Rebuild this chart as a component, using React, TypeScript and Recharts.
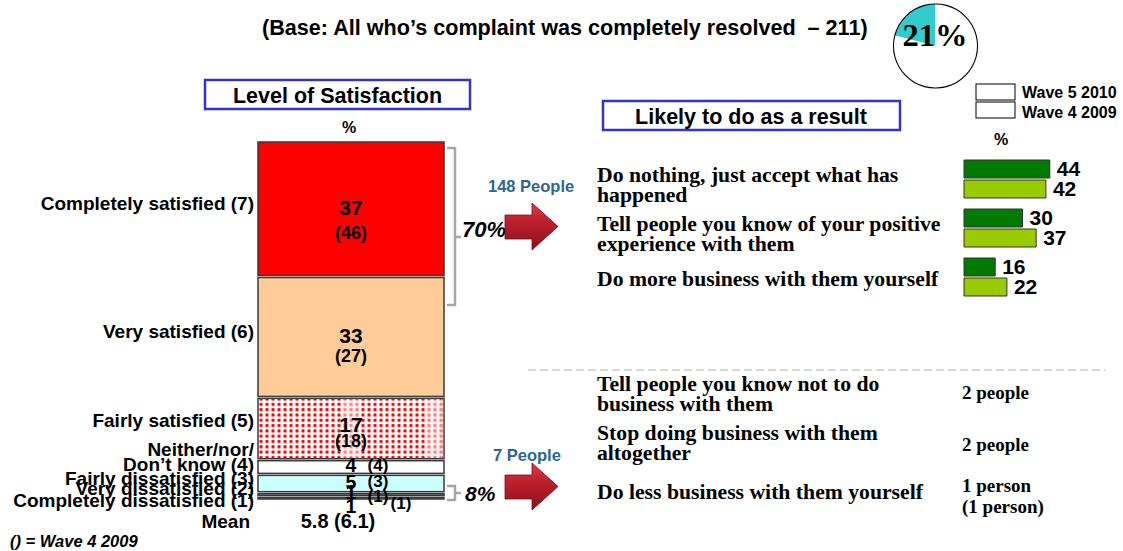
import React from 'react';
import { BarChart, Bar, XAxis, YAxis, LabelList, PieChart, Pie, Cell } from 'recharts';

// ---------- DATA ----------
// stacked bar, bottom to top
const satisfactionLevels = [
  'Completely dissatisfied (1)',
  'Very dissatisfied (2)',
  'Fairly dissatisfied (3)',
  'Neither/nor/\nDon’t know (4)',
  'Fairly satisfied (5)',
  'Very satisfied (6)',
  'Completely satisfied (7)',
];
const wave5Satisfaction = [1, 1, 5, 4, 17, 33, 37];
const wave4Satisfaction = [1, 1, 3, 4, 18, 27, 46];
const satisfactionFills = ['#5a84b0', '#ffffff', '#ccffff', '#ffffff', 'url(#redDots)', '#ffcc99', '#ff0000'];
const meanLabel = '5.8 (6.1)';

const actionCategories = [
  'Do nothing, just accept what has happened',
  'Tell people you know of your positive experience with them',
  'Do more business with them yourself',
];
const actionWave5 = [44, 30, 16];
const actionWave4 = [42, 37, 22];
const waveNames = ['Wave 5 2010', 'Wave 4 2009'];

const negativeActions = [
  'Tell people you know not to do business with them',
  'Stop doing business with them altogether',
  'Do less business with them yourself',
];
const negativeCounts = [['2 people'], ['2 people'], ['1 person', '(1 person)']];

const resolvedShare = [21, 79];
const positivePeople = '148 People';
const negativePeople = '7 People';
const positiveShare = '70%';
const negativeShare = '8%';

// ---------- BUILT TABLES ----------
const stackRow: Record<string, any> = { name: 'Level of Satisfaction' };
wave5Satisfaction.forEach((v, i) => { stackRow['s' + i] = v; });
const stackData = [stackRow];
const actionData = actionCategories.map((name, i) => ({ name, w5: actionWave5[i], w4: actionWave4[i] }));
const pieData = resolvedShare.map((value, i) => ({ name: i === 0 ? 'yes' : 'no', value }));

const SANS = '"Liberation Sans", Arial, sans-serif';
const SERIF = '"Liberation Serif", "Times New Roman", serif';

function wrap(text: string, max: number): string[] {
  const words = text.split(' ');
  const lines: string[] = [];
  let cur = '';
  words.forEach((w) => {
    const t = cur ? cur + ' ' + w : w;
    if (t.length > max && cur) { lines.push(cur); cur = w; } else cur = t;
  });
  if (cur) lines.push(cur);
  return lines;
}

// per-series styling offsets (px) for text placement
const catDy = [2, -6.5, -5.5, -3, -8.6, -6, -6];
const numDy = [8, -2.5, -2, -2, -3.6, -1, -0.8];
const w4Dy = [5, 1.5, -2.5, -2, 12.4, 19, 24];
const w4Dx = [50, 27, 27, 27, 0, 0, 0];

const makeStackLabel = (i: number) => (props: any) => {
  const vb = props.viewBox ?? props;
  const x = Number(vb.x ?? props.x), y0 = Number(vb.y ?? props.y);
  const w = Number(vb.width ?? props.width), h0 = Number(vb.height ?? props.height);
  const top = Math.min(y0, y0 + h0);
  const h = Math.abs(h0);
  const cx = x + w / 2;
  const cy = top + h / 2;
  const lines = satisfactionLevels[i].split('\n');
  const big = i >= 4;
  const cat = lines.map((l, k) => (
    <text key={'c' + k} x={x - 4} y={cy + catDy[i] + 7 - (lines.length - 1 - k) * 15}
      textAnchor="end" fontFamily={SANS} fontWeight="bold" fontSize={19} fill="#000">{l}</text>
  ));
  return (
    <g>
      {cat}
      <text x={cx} y={cy + numDy[i] + (big ? 7.5 : 7)} textAnchor="middle" fontFamily={SANS}
        fontWeight="bold" fontSize={big ? 21 : 19.5} fill="#000">{wave5Satisfaction[i]}</text>
      <text x={cx + w4Dx[i]} y={cy + w4Dy[i] + 6} textAnchor="middle" fontFamily={SANS}
        fontWeight="bold" fontSize={big ? 18 : 17} fill="#000">{'(' + wave4Satisfaction[i] + ')'}</text>
    </g>
  );
};

const segShape = (i: number) => (props: any) => {
  const { x, y, width, height, fill } = props;
  const top = Math.min(y, y + height);
  const h = Math.max(Math.abs(height) - 2, 1);
  return (
    <g>
      <rect x={x} y={top + 1} width={width} height={h} fill={fill} stroke="#3a3a3a" strokeWidth={1.5} />
      {i === 4 && (
        <g>
          <rect x={x + width * 0.45} y={top + 2} width={width * 0.1} height={h - 2} fill="#ffe6e6" opacity={0.55} />
          <rect x={x + width * 0.9} y={top + 2} width={width * 0.09} height={h - 2} fill="#ffe6e6" opacity={0.55} />
        </g>
      )}
    </g>
  );
};

const ActionTick = (props: any) => {
  const { y, payload } = props;
  const lines = wrap(String(payload.value), 37);
  const base = y + 9.5 - (lines.length - 1) * 6;
  return (
    <g>
      {lines.map((l, k) => (
        <text key={k} x={7} y={base + k * 20} fontFamily={SERIF} fontWeight="bold" fontSize={21.7} fill="#000">{l}</text>
      ))}
    </g>
  );
};

const Arrow = ({ dy }: { dy: number }) => (
  <path
    d={`M505,${215 + dy} L532,${215 + dy} L532,${203 + dy} L558,${226.5 + dy} L532,${250 + dy} L532,${239 + dy} L505,${239 + dy} Z`}
    fill="url(#arrowGrad)" stroke="#7a0f18" strokeWidth={0.8}
  />
);

export default function App() {
  return (
    <div style={{ position: 'absolute', left: 0, top: 0, width: 1123, height: 551, background: '#fff', overflow: 'hidden' }}>
      {/* Left stacked bar */}
      <div style={{ position: 'absolute', left: 0, top: 121 }}>
        <BarChart width={460} height={420} data={stackData} margin={{ top: 20, right: 16, bottom: 41, left: 258 }} barCategoryGap={0}>
          <defs>
            <pattern id="redDots" patternUnits="userSpaceOnUse" width={6} height={5.3}>
              <rect x={0} y={0} width={6} height={5.3} fill="#ffffff" />
              <rect x={1.5} y={1} width={3} height={3} fill="#ff0000" />
            </pattern>
          </defs>
          <XAxis dataKey="name" hide />
          <YAxis hide domain={[0, 98]} type="number" />
          {wave5Satisfaction.map((_, i) => (
            <Bar key={i} dataKey={'s' + i} stackId="a" fill={satisfactionFills[i]} isAnimationActive={false} shape={segShape(i)}>
              <LabelList dataKey={'s' + i} content={makeStackLabel(i)} />
            </Bar>
          ))}
        </BarChart>
      </div>

      {/* Right horizontal bars */}
      <div style={{ position: 'absolute', left: 590, top: 144 }}>
        <BarChart width={530} height={167} data={actionData} layout="vertical" margin={{ top: 10, right: 0, bottom: 10, left: 0 }} barGap={2}>
          <XAxis type="number" domain={[0, 80]} hide />
          <YAxis type="category" dataKey="name" width={374} axisLine={false} tickLine={false} tick={(p: any) => <ActionTick {...p} />} />
          <Bar dataKey="w5" name={waveNames[0]} fill="#007a00" stroke="#333" strokeWidth={1} barSize={18} isAnimationActive={false}>
            <LabelList dataKey="w5" position="right" offset={7} fontFamily={SANS} fontWeight="bold" fontSize={21} fill="#000" />
          </Bar>
          <Bar dataKey="w4" name={waveNames[1]} fill="#99cc00" stroke="#333" strokeWidth={1} barSize={18} isAnimationActive={false}>
            <LabelList dataKey="w4" position="right" offset={7} fontFamily={SANS} fontWeight="bold" fontSize={21} fill="#000" />
          </Bar>
        </BarChart>
      </div>

      {/* Pie */}
      <div style={{ position: 'absolute', left: 885, top: 0 }}>
        <PieChart width={100} height={95} margin={{ top: 0, right: 0, bottom: 0, left: 0 }}>
          <Pie data={pieData} dataKey="value" cx={50.5} cy={46} outerRadius={42} startAngle={90} endAngle={450} stroke="none" isAnimationActive={false}>
            <Cell fill="#33cccc" />
            <Cell fill="#ffffff" />
          </Pie>
          <Pie data={[{ value: 100 }]} dataKey="value" cx={50.5} cy={46} innerRadius={41.5} outerRadius={42.6} startAngle={90} endAngle={450} fill="#000" stroke="none" isAnimationActive={false} />
        </PieChart>
      </div>

      {/* Overlay texts and decorations */}
      <svg width={1123} height={551} style={{ position: 'absolute', left: 0, top: 0, pointerEvents: 'none' }}>
        <defs>
          <linearGradient id="arrowGrad" x1="0" y1="0" x2="0" y2="1">
            <stop offset="0%" stopColor="#d8404c" />
            <stop offset="35%" stopColor="#c0222f" />
            <stop offset="100%" stopColor="#8e0f1a" />
          </linearGradient>
        </defs>
        <text x={262} y={34.5} fontFamily={SANS} fontWeight="bold" fontSize={21.6} fill="#000" style={{ whiteSpace: 'pre' }}>
          (Base: All who’s complaint was completely resolved  – 211)
        </text>
        <text x={935} y={46} textAnchor="middle" fontFamily={SERIF} fontWeight="bold" fontSize={32.5} fill="#000">{resolvedShare[0]}%</text>

        {/* titles */}
        <rect x={205} y={80} width={265} height={29} fill="none" stroke="#3333cc" strokeWidth={2.5} />
        <text x={337.5} y={103} textAnchor="middle" fontFamily={SANS} fontWeight="bold" fontSize={21.5} fill="#000">Level of Satisfaction</text>
        <rect x={603} y={101} width={297} height={29} fill="none" stroke="#3333cc" strokeWidth={2.5} />
        <text x={751} y={123.5} textAnchor="middle" fontFamily={SANS} fontWeight="bold" fontSize={21.5} fill="#000">Likely to do as a result</text>
        <text x={349} y={133} textAnchor="middle" fontFamily={SANS} fontWeight="bold" fontSize={16} fill="#000">%</text>
        <text x={1001} y={145} textAnchor="middle" fontFamily={SANS} fontWeight="bold" fontSize={16} fill="#000">%</text>

        {/* legend */}
        <rect x={976} y={84} width={39} height={16} fill="#fff" stroke="#000" strokeWidth={1} />
        <rect x={976} y={102} width={39} height={16} fill="#fff" stroke="#000" strokeWidth={1} />
        <text x={1022} y={98} fontFamily={SANS} fontWeight="bold" fontSize={16} fill="#000">{waveNames[0]}</text>
        <text x={1022} y={117.5} fontFamily={SANS} fontWeight="bold" fontSize={16} fill="#000">{waveNames[1]}</text>

        {/* brackets */}
        <path d="M447,148 L455,148 L455,305 L447,305 M455,237 L461,237" fill="none" stroke="#a6a6a6" strokeWidth={2.5} />
        <text x={462} y={237} fontFamily={SANS} fontWeight="bold" fontStyle="italic" fontSize={22} fill="#000">{positiveShare}</text>
        <path d="M447,486 L455,486 L455,500 L447,500 M455,493 L461,493" fill="none" stroke="#a6a6a6" strokeWidth={2.5} />
        <text x={465} y={500.5} fontFamily={SANS} fontWeight="bold" fontStyle="italic" fontSize={21} fill="#000">{negativeShare}</text>

        {/* arrows */}
        <text x={488} y={192} fontFamily={SANS} fontWeight="bold" fontSize={16.5} fill="#2f6690">{positivePeople}</text>
        <Arrow dy={0} />
        <text x={493} y={461} fontFamily={SANS} fontWeight="bold" fontSize={16.5} fill="#2f6690">{negativePeople}</text>
        <Arrow dy={260} />

        {/* separator */}
        <line x1={528} y1={370} x2={1105} y2={370} stroke="#b0b0b0" strokeWidth={1} strokeDasharray="8 4" />

        {/* negative actions */}
        {[391, 440, 499].map((by, i) => (
          <g key={i}>
            {wrap(negativeActions[i], 37).map((l, k) => (
              <text key={k} x={597} y={by + k * 20} fontFamily={SERIF} fontWeight="bold" fontSize={21.7} fill="#000">{l}</text>
            ))}
          </g>
        ))}
        {[399, 451, 492].map((by, i) => (
          <g key={'n' + i}>
            {negativeCounts[i].map((l, k) => (
              <text key={k} x={962} y={by + k * 21} fontFamily={SERIF} fontWeight="bold" fontSize={19} fill="#000">{l}</text>
            ))}
          </g>
        ))}

        {/* mean + footnote */}
        <text x={250} y={528} textAnchor="end" fontFamily={SANS} fontWeight="bold" fontSize={19} fill="#000">Mean</text>
        <text x={338} y={528} textAnchor="middle" fontFamily={SANS} fontWeight="bold" fontSize={20} fill="#000">{meanLabel}</text>
        <text x={10} y={546.5} fontFamily={SANS} fontWeight="bold" fontStyle="italic" fontSize={16.5} fill="#000">() = Wave 4 2009</text>
      </svg>
    </div>
  );
}
